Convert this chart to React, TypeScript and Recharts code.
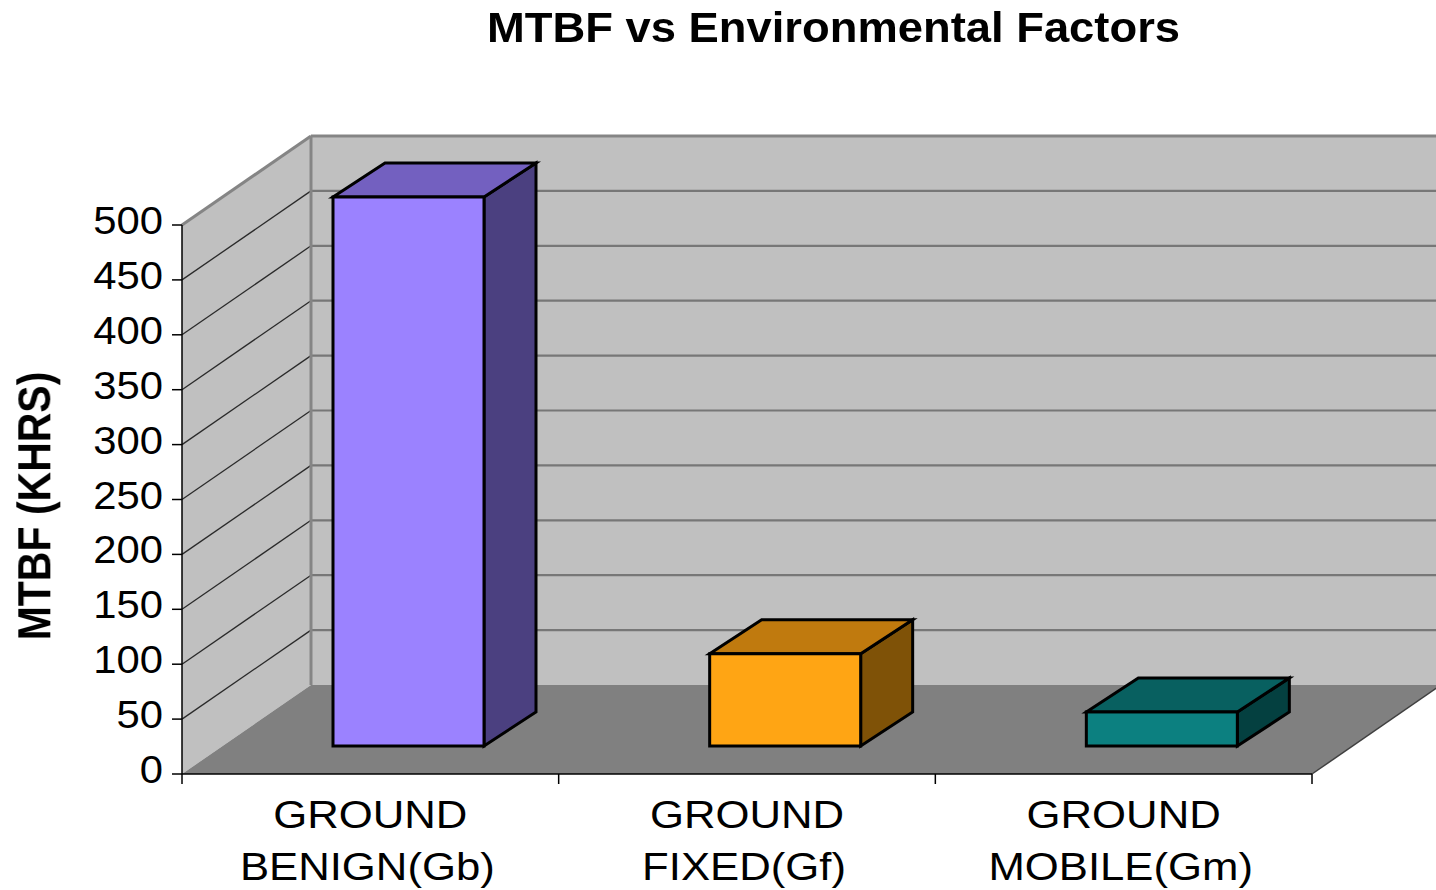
import { BarChart, Bar, XAxis, YAxis, ReferenceArea } from 'recharts'

const CATEGORIES = ['GROUND BENIGN(Gb)', 'GROUND FIXED(Gf)', 'GROUND MOBILE(Gm)']
const MTBF_KHRS = [500, 84, 31]
const Y_TICKS = [0, 50, 100, 150, 200, 250, 300, 350, 400, 450, 500]

const data = CATEGORIES.map((name, i) => ({ name, mtbf: MTBF_KHRS[i] }))

const W = 1428
const H = 882
const FONT = '"Liberation Sans", Arial, Helvetica, sans-serif'

// oblique offset of the whole floor depth, and of the bars inside it
const DX = 129, DY = 89
const FX = 38, FY = 28 // front face of bars sits this far back
const BX = 52, BY = 34 // depth of a bar

const FRONT = ['#9B82FF', '#FFA514', '#0C8080']
const TOP   = ['#7360C0', '#C07A0E', '#086060']
const SIDE  = ['#4B4080', '#7F5207', '#044040']

const WALL = '#C0C0C0'
const FLOOR = '#808080'
const EDGE = '#858585'

// back wall, left wall, floor and gridlines, laid out from the plot rect
function Walls(props: any) {
  const { x, y, width, height } = props
  const bottom = y + height
  const yMax = Y_TICKS[Y_TICKS.length - 1]
  const yOf = (v: number) => bottom - (height * v) / yMax
  const right = x + width
  return (
    <g>
      <polygon
        points={`${x + DX},${y - DY} ${right + DX},${y - DY} ${right + DX},${bottom - DY} ${x + DX},${bottom - DY}`}
        fill={WALL}
      />
      <polygon
        points={`${x},${bottom} ${x},${y} ${x + DX},${y - DY} ${x + DX},${bottom - DY}`}
        fill={WALL}
      />
      <polygon
        points={`${x},${bottom} ${right},${bottom} ${right + DX},${bottom - DY} ${x + DX},${bottom - DY}`}
        fill={FLOOR}
      />
      {Y_TICKS.filter(t => t > 0).map(t => {
        const yy = yOf(t)
        const isTop = t === yMax
        return (
          <g key={t}>
            <line x1={x + DX} y1={yy - DY} x2={right + DX} y2={yy - DY}
              stroke={isTop ? EDGE : '#777'} strokeWidth={isTop ? 3 : 2.2} />
            <line x1={x} y1={yy} x2={x + DX} y2={yy - DY}
              stroke={isTop ? EDGE : '#2a2a2a'} strokeWidth={isTop ? 3 : 1.3} />
          </g>
        )
      })}
      <line x1={x + DX} y1={y - DY} x2={x + DX} y2={bottom - DY} stroke={EDGE} strokeWidth={3} />
      <line x1={right} y1={bottom} x2={right + DX} y2={bottom - DY} stroke="#404040" strokeWidth={1.5} />
    </g>
  )
}

function Box(props: any) {
  const { x, y, width, height, index } = props
  const fx = x + FX
  const fy = y - FY
  const top = `${fx},${fy} ${fx + BX},${fy - BY} ${fx + width + BX},${fy - BY} ${fx + width},${fy}`
  const side = `${fx + width},${fy} ${fx + width + BX},${fy - BY} ${fx + width + BX},${fy + height - BY} ${fx + width},${fy + height}`
  return (
    <g stroke="#000" strokeWidth={3} strokeLinejoin="miter">
      <polygon points={side} fill={SIDE[index]} />
      <polygon points={top} fill={TOP[index]} />
      <rect x={fx} y={fy} width={width} height={height} fill={FRONT[index]} />
    </g>
  )
}

function YTick({ x, y, payload }: any) {
  return (
    <text transform={`translate(${x + 1},${y + 9}) scale(1.1,1)`} textAnchor="end"
      fontSize={38} fontFamily={FONT} fill="#000">
      {payload.value}
    </text>
  )
}

function XTick({ x, y, payload, index }: any) {
  const half = payload.offset ?? (W - 174 - 124) / CATEGORIES.length / 2
  const words = String(payload.value).split(' ')
  const first = words[0]
  const rest = words.slice(1).join(' ')
  return (
    <g>
      <line x1={x - half} y1={y} x2={x - half} y2={y + 10} stroke="#000" strokeWidth={1.5} />
      {index === CATEGORIES.length - 1 && (
        <line x1={x + half} y1={y} x2={x + half} y2={y + 10} stroke="#000" strokeWidth={1.5} />
      )}
      <text transform={`translate(${x},${y + 54}) scale(1.15,1)`} textAnchor="middle"
        fontSize={38} fontFamily={FONT} fill="#000">{first}</text>
      <text transform={`translate(${x - 3},${y + 106}) scale(1.15,1)`} textAnchor="middle"
        fontSize={38} fontFamily={FONT} fill="#000">{rest}</text>
    </g>
  )
}

export default function App() {
  return (
    <div style={{ position: 'fixed', left: 8, top: 8, width: W, height: H, background: '#fff' }}>
      <BarChart width={W} height={H} data={data} barCategoryGap="30%"
        margin={{ top: 217, right: 124, bottom: 0, left: 0 }}>
        <ReferenceArea y1={0} y2={500} shape={<Walls />} />
        <XAxis dataKey="name" height={116} interval={0} tickLine={false} tickSize={0} tickMargin={0}
          axisLine={{ stroke: '#000', strokeWidth: 1.5 }} tick={<XTick />} />
        <YAxis domain={[0, 500]} ticks={Y_TICKS} width={174} interval={0} tickSize={10} tickMargin={10}
          axisLine={{ stroke: '#000', strokeWidth: 1.5 }} tickLine={{ stroke: '#000', strokeWidth: 1.5 }}
          tick={<YTick />} />
        <Bar dataKey="mtbf" isAnimationActive={false} shape={<Box />} />
      </BarChart>
      <svg width={W + 8} height={H + 8}
        style={{ position: 'absolute', left: -8, top: -8, pointerEvents: 'none' }}>
        <text transform="translate(833.5,42) scale(1.08,1)" textAnchor="middle"
          fontSize={42} fontWeight="bold" fontFamily={FONT} fill="#000">
          MTBF vs Environmental Factors
        </text>
        <text transform="translate(50,506) scale(1.12,1) rotate(-90)" textAnchor="middle"
          fontSize={41} fontWeight="bold" fontFamily={FONT} fill="#000">
          MTBF (KHRS)
        </text>
      </svg>
    </div>
  )
}
